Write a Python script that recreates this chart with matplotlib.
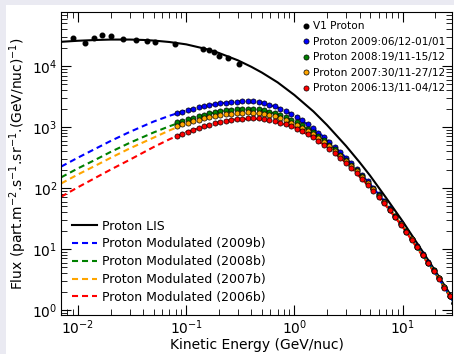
import numpy as np
import matplotlib
matplotlib.use('Agg')
import matplotlib.pyplot as plt
from matplotlib.patches import Rectangle

# Local interstellar spectrum (model)
e_lis = [0.007, 0.01, 0.015, 0.02, 0.03, 0.04, 0.05, 0.07, 0.1, 0.15, 0.2, 0.3,
         0.4, 0.5, 0.7, 1, 1.5, 2, 3, 4, 5, 7, 10, 15, 20, 30]
f_lis = [2.5e4, 2.6e4, 2.68e4, 2.72e4, 2.72e4, 2.68e4, 2.62e4, 2.48e4, 2.27e4,
         1.92e4, 1.643e4, 1.243e4, 9.72e3, 7.83e3, 5.40e3, 3.35e3, 1.8e3, 1.08e3,
         490, 265, 160, 70, 28.5, 9.6, 4.4, 1.42]

# Voyager 1 protons
e_v1 = [0.00905, 0.01161, 0.01412, 0.01667, 0.02005, 0.02606, 0.03436, 0.04365,
        0.0517, 0.0788, 0.1429, 0.1632, 0.1816, 0.2023, 0.2445, 0.3076]
f_v1 = [2.88e4, 2.43e4, 2.91e4, 3.22e4, 3.13e4, 2.79e4, 2.71e4, 2.62e4,
        2.52e4, 2.30e4, 1.90e4, 1.85e4, 1.70e4, 1.48e4, 1.38e4, 1.07e4]

# PAMELA proton data
e_dat = [0.082, 0.092, 0.103, 0.116, 0.130, 0.146, 0.164, 0.184, 0.207, 0.232,
         0.261, 0.293, 0.329, 0.369, 0.415, 0.466, 0.523, 0.588, 0.660, 0.741,
         0.833, 0.935, 1.05, 1.18, 1.33, 1.49, 1.67, 1.88, 2.11, 2.37,
         2.66, 2.99, 3.36, 3.77, 4.24, 4.76, 5.35, 6.01, 6.75, 7.58,
         8.52, 9.57, 10.8, 12.1, 13.6, 15.3, 17.2, 19.3, 21.7, 24.3, 27.3, 30.0]
f_2009 = [1704, 1794, 1890, 1991, 2095, 2194, 2288, 2374, 2454, 2517,
          2568, 2619, 2650, 2656, 2632, 2562, 2466, 2332, 2184, 2006,
          1834, 1645, 1466, 1287, 1110, 950, 810, 686, 576, 478,
          387, 316, 255, 206, 163, 129, 102, 78.7, 61, 46.4,
          35.3, 26.7, 19.8, 14.8, 11.0, 8.18, 6.03, 4.51, 3.35, 2.38, 1.70, 1.29]
f_2008 = [1196, 1264, 1344, 1430, 1513, 1594, 1672, 1737, 1810, 1872,
          1926, 1971, 2001, 2013, 1988, 1953, 1883, 1795, 1694, 1569,
          1448, 1318, 1194, 1065, 935, 816, 703, 604, 514, 432,
          353, 292, 238, 194, 155, 123, 97.4, 76.1, 59.4, 45.2,
          34.5, 26.2, 19.6, 14.6, 10.9, 8.06, 5.97, 4.47, 3.31, 2.35, 1.69, 1.29]
f_2007 = [1059, 1115, 1176, 1249, 1319, 1387, 1452, 1505, 1567, 1619,
          1664, 1701, 1725, 1734, 1722, 1690, 1640, 1572, 1493, 1392,
          1293, 1186, 1081, 971, 859, 755, 656, 568, 483, 408,
          337, 279, 228, 187, 150, 120, 95.1, 74.4, 58, 44.3,
          34, 25.8, 19.3, 14.5, 10.8, 8.02, 5.91, 4.44, 3.31, 2.34, 1.68, 1.28]
f_2006 = [725, 780, 840, 905, 970, 1035, 1100, 1158, 1215, 1265,
          1310, 1350, 1380, 1398, 1400, 1385, 1355, 1310, 1255, 1180,
          1105, 1022, 940, 852, 760, 674, 591, 516, 443, 376,
          312, 261, 214, 176, 142, 114, 91, 71.5, 56, 43,
          33, 25.2, 18.9, 14.2, 10.6, 7.9, 5.85, 4.4, 3.28, 2.33, 1.67, 1.28]

# Modulated spectra (model)
e_mod = [0.007, 0.01, 0.015, 0.02, 0.03, 0.05, 0.07, 0.1, 0.15, 0.2, 0.3, 0.5,
         0.7, 1, 1.5, 2, 3, 5, 7, 10, 15, 20, 30]
m_2009 = [225, 315, 455, 590, 830, 1230, 1530, 1870, 2215, 2430, 2625, 2510,
          2100, 1550, 945, 625, 314, 116, 57, 24.3, 8.5, 4.1, 1.29]
m_2008 = [150, 210, 300, 390, 550, 815, 1030, 1290, 1580, 1790, 1980, 1910,
          1610, 1240, 810, 550, 290, 110, 54.5, 23.8, 8.3, 4.05, 1.29]
m_2007 = [119, 167, 240, 312, 445, 670, 880, 1140, 1380, 1550, 1700, 1650,
          1410, 1120, 750, 520, 279, 106, 53.5, 23.6, 8.2, 4.0, 1.28]
m_2006 = [72, 103, 152, 200, 290, 470, 630, 830, 1030, 1195, 1355, 1365,
          1200, 985, 670, 470, 260, 102, 51.5, 23, 8.1, 3.95, 1.28]

years = ['2009', '2008', '2007', '2006']
periods = ['06/12-01/01', '19/11-15/12', '30/11-27/12', '13/11-04/12']
colors = ['blue', 'green', 'orange', 'red']
data = [f_2009, f_2008, f_2007, f_2006]
models = [m_2009, m_2008, m_2007, m_2006]

fig = plt.figure(figsize=(4.54, 3.54), dpi=100, facecolor='#eaeaf2')
fig.patches.append(Rectangle((6/454, 0), 1, 1 - 5/354, transform=fig.transFigure,
                             facecolor='white', edgecolor='none', zorder=-1))
ax = fig.add_axes([61/454, 39/354, 391/454, 303/354])

lis, = ax.plot(e_lis, f_lis, color='black', lw=1.5, label='Proton LIS')
mod_lines = [lis]
for y, c, m in zip(years, colors, models):
    l, = ax.plot(e_mod, m, ls=(0, (2.9, 1.9)), color=c, lw=1.5,
                 label='Proton Modulated (%sb)' % y)
    mod_lines.append(l)

pts = []
p, = ax.plot(e_v1, f_v1, 'o', color='black', ms=3.3, ls='none', label='V1 Proton')
pts.append(p)
for y, per, c, d in zip(years, periods, colors, data):
    p, = ax.plot(e_dat, d, 'o', color=c, mec='black', mew=0.5, ms=3.7, ls='none',
                 label='Proton %s:%s' % (y, per))
    pts.append(p)

ax.set_xscale('log')
ax.set_yscale('log')
ax.set_xlim(0.00697, 28.6)
ax.set_ylim(0.828, 7.7e4)
ax.set_facecolor('white')
ax.tick_params(which='both', direction='in', top=True, right=True, labelsize=10, pad=2.5)
ax.tick_params(which='major', length=7)
ax.tick_params(which='minor', length=4)
ax.set_xlabel('Kinetic Energy (GeV/nuc)', fontsize=10, labelpad=1)
ax.set_ylabel('Flux (part.m$^{-2}$.s$^{-1}$.sr$^{-1}$.(GeV/nuc)$^{-1}$)', fontsize=10,
              labelpad=2)

leg1 = ax.legend(handles=pts, loc='upper right', frameon=False, fontsize=7.6,
                 numpoints=1, handlelength=0.8, handletextpad=0.3, labelspacing=0.52,
                 bbox_to_anchor=(1.008, 1.0))
ax.add_artist(leg1)
ax.legend(handles=mod_lines, loc='lower left', frameon=False, fontsize=9,
          handlelength=2.0, handletextpad=0.4, labelspacing=0.38)

fig.savefig('out.png', dpi=100, facecolor=fig.get_facecolor())
